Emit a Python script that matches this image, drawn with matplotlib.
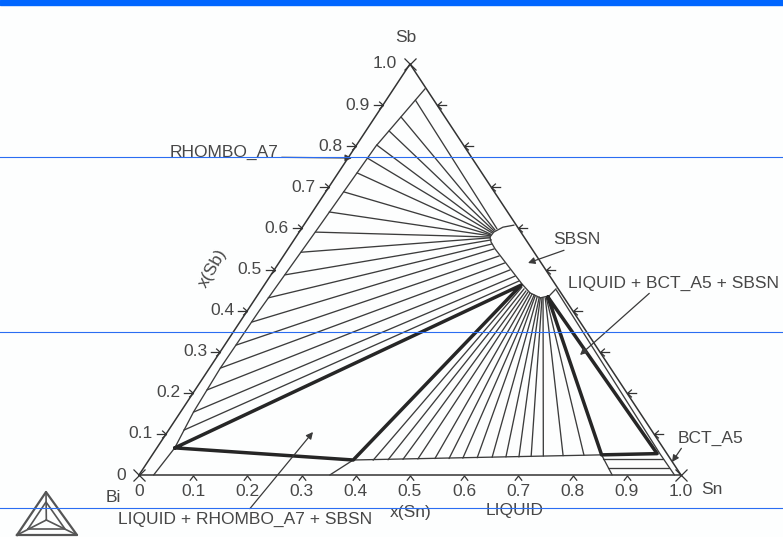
import numpy as np
import matplotlib.pyplot as plt
from matplotlib.transforms import Affine2D
from matplotlib.path import Path

plt.rcParams['font.family'] = ['Liberation Sans', 'DejaVu Sans']

# compositions as (x(Sn), x(Sb))
rhombo_sn = [0.027, 0.033, 0.024, 0.020, 0.022, 0.030, 0.037, 0.058]
rhombo_sb = [0.000, 0.066, 0.153, 0.260, 0.400, 0.600, 0.800, 0.940]

sbsn_sn = [0.388, 0.370, 0.359, 0.358, 0.366, 0.382, 0.474, 0.500, 0.525, 0.539, 0.543]
sbsn_sb = [0.608, 0.603, 0.591, 0.579, 0.567, 0.550, 0.465, 0.443, 0.431, 0.436, 0.453]

# tie lines RHOMBO_A7 + SBSN
tie_rh_sn = [0.054, 0.048, 0.043, 0.037, 0.036, 0.035, 0.033, 0.031, 0.030,
             0.028, 0.026, 0.023, 0.022, 0.021, 0.020, 0.022, 0.024, 0.028]
tie_rh_sb = [0.912, 0.871, 0.837, 0.803, 0.771, 0.735, 0.689, 0.640, 0.591,
             0.542, 0.487, 0.431, 0.372, 0.316, 0.260, 0.207, 0.153, 0.109]
tie_sb_sn = [0.361, 0.359, 0.358, 0.358, 0.357, 0.356, 0.357, 0.357, 0.358,
             0.359, 0.364, 0.370, 0.380, 0.398, 0.417, 0.435, 0.452, 0.465]
tie_sb_sb = [0.599, 0.596, 0.594, 0.591, 0.589, 0.586, 0.584, 0.582, 0.579,
             0.577, 0.572, 0.562, 0.550, 0.533, 0.516, 0.499, 0.484, 0.472]

# tie lines LIQUID + SBSN
tie_liq_sn = [0.414, 0.441, 0.468, 0.495, 0.526, 0.552, 0.577, 0.603,
              0.630, 0.655, 0.679, 0.701, 0.723, 0.759, 0.797]
tie_liq_sb = [0.036, 0.037, 0.038, 0.039, 0.040, 0.040, 0.041, 0.042,
              0.043, 0.044, 0.044, 0.045, 0.046, 0.047, 0.048]
tie_top_sn = [0.478, 0.484, 0.490, 0.495, 0.500, 0.505, 0.510, 0.513,
              0.518, 0.522, 0.525, 0.528, 0.530, 0.534, 0.536]
tie_top_sb = [0.457, 0.453, 0.448, 0.445, 0.443, 0.440, 0.438, 0.436,
              0.433, 0.433, 0.431, 0.431, 0.431, 0.431, 0.431]

# three-phase triangles
tri1_sn = [0.033, 0.474, 0.377, 0.033]   # RHOMBO_A7 - SBSN - LIQUID
tri1_sb = [0.066, 0.462, 0.0365, 0.066]
tri2_sn = [0.538, 0.829, 0.930, 0.538]   # SBSN - LIQUID - BCT_A5
tri2_sb = [0.433, 0.049, 0.052, 0.433]

liq_top_sn = [0.377, 0.829]
liq_top_sb = [0.0365, 0.049]
liq_left_sn = [0.352, 0.377]
liq_left_sb = [0.0, 0.0365]
liq_right_sn = [0.829, 0.873]
liq_right_sb = [0.049, 0.0]
bct_sn = [0.545, 0.935, 0.988]
bct_sb = [0.450, 0.052, 0.0]
tie_bct_sn = [[0.837, 0.947], [0.858, 0.969]]
tie_bct_sb = [[0.040, 0.040], [0.016, 0.016]]

tick_vals = [0.1, 0.2, 0.3, 0.4, 0.5, 0.6, 0.7, 0.8, 0.9]
tick_labels = ['0', '0.1', '0.2', '0.3', '0.4', '0.5', '0.6', '0.7', '0.8', '0.9', '1.0']

logo_outer = [(17, 535), (77, 535), (46, 492), (17, 535)]
logo_inner = [(28, 529), (65, 529), (46, 502), (28, 529)]

thin = dict(color='#3c3c3c', lw=0.95, solid_capstyle='round')
thick = dict(color='#262626', lw=2.5, solid_capstyle='round', solid_joinstyle='round')
txt = dict(color='#474747', fontsize=12.5)

fig = plt.figure(figsize=(7.83, 5.37), dpi=100)
fig.patch.set_facecolor('#fdfefe')
ax = fig.add_axes([0, 0, 1, 1])
ax.set_xlim(0, 783)
ax.set_ylim(537, 0)
ax.axis('off')

# skewed ternary frame of the scan: (x(Sn), x(Sb)) -> pixel position
skew = Affine2D().from_values(542, 0, 271, -411, 139, 475)
tern = skew + ax.transData

ax.plot([0, 1, 0, 0], [0, 0, 1, 0], transform=tern, color='#333333', lw=1.1)
ax.plot(rhombo_sn, rhombo_sb, transform=tern, **thin)
ax.plot(sbsn_sn, sbsn_sb, transform=tern, **thin)

for i in range(len(tie_rh_sn)):
    ax.plot([tie_rh_sn[i], tie_sb_sn[i]], [tie_rh_sb[i], tie_sb_sb[i]], transform=tern, **thin)
for i in range(len(tie_liq_sn)):
    ax.plot([tie_liq_sn[i], tie_top_sn[i]], [tie_liq_sb[i], tie_top_sb[i]], transform=tern, **thin)

ax.plot(liq_top_sn, liq_top_sb, transform=tern, **thin)
ax.plot(liq_left_sn, liq_left_sb, transform=tern, **thin)
ax.plot(liq_right_sn, liq_right_sb, transform=tern, **thin)
ax.plot(bct_sn, bct_sb, transform=tern, **thin)
for sn, sb in zip(tie_bct_sn, tie_bct_sb):
    ax.plot(sn, sb, transform=tern, **thin)

ax.plot(tri1_sn, tri1_sb, transform=tern, **thick)
ax.plot(tri2_sn, tri2_sb, transform=tern, **thick)

# axis ticks
M, L = Path.MOVETO, Path.LINETO
left_tick = Path([(-1, 0), (0, 0), (-0.45, 0.4), (0, 0), (-0.45, -0.4)], [M, L, M, L, L])
right_tick = Path([(1, 0), (0, 0), (0.45, 0.4), (0, 0), (0.45, -0.4)], [M, L, M, L, L])
base_tick = Path([(-0.7, -1), (0, -0.1), (0.7, -1)], [M, L, L])
tv = np.array(tick_vals)
mk = dict(transform=tern, ls='none', color='#333333', mfc='none', mew=0.9)
ax.plot(np.zeros_like(tv), tv, marker=left_tick, ms=14, **mk)
ax.plot(1 - tv, tv, marker=right_tick, ms=14, **mk)
ax.plot(tv, np.zeros_like(tv), marker=base_tick, ms=7.5, **mk)
ax.plot([0, 1, 0], [0, 0, 1], marker='x', ms=8, **mk)

for i, lab in enumerate(tick_labels):
    v = i / 10
    x, y = skew.transform((0, v))
    ax.text(x - 13, y, lab, ha='right', va='center', **txt)
    x, y = skew.transform((v, 0))
    ax.text(x, y + 17, lab, ha='center', va='center', **txt)

ax.text(406, 37, 'Sb', ha='center', va='center', **txt)
ax.text(113, 497, 'Bi', ha='center', va='center', **txt)
ax.text(712, 490, 'Sn', ha='center', va='center', **txt)
ax.text(213, 268, 'x(Sb)', ha='center', va='center', rotation=60, **txt)
ax.text(411, 513, 'x(Sn)', ha='center', va='center', **txt)
ax.text(515, 510, 'LIQUID', ha='center', va='center', **txt)

arr = dict(arrowstyle='-|>', color='#3a3a3a', lw=0.9, mutation_scale=10, shrinkA=0, shrinkB=0)
ax.annotate('RHOMBO_A7', xy=(352, 158), xytext=(170, 152), va='center', ha='left', **txt,
            arrowprops=dict(arr, relpos=(1, 0.15)))
ax.annotate('SBSN', xy=(528, 263), xytext=(553, 240), va='center', ha='left', **txt,
            arrowprops=dict(arr, relpos=(0.4, 0)))
ax.annotate('LIQUID + BCT_A5 + SBSN', xy=(580, 355), xytext=(568, 283), va='center', ha='left', **txt,
            arrowprops=dict(arr, relpos=(0.4, 0)))
ax.annotate('BCT_A5', xy=(672, 462), xytext=(678, 438), va='center', ha='left', **txt,
            arrowprops=dict(arr, relpos=(0.08, 0)))
ax.annotate('LIQUID + RHOMBO_A7 + SBSN', xy=(313, 432), xytext=(118, 519), va='center', ha='left', **txt,
            arrowprops=dict(arr, relpos=(0.51, 1)))

# Thermo-Calc style logo
lo = np.array(logo_outer)
li = np.array(logo_inner)
ax.plot(lo[:, 0], lo[:, 1], color='#555555', lw=1.6)
ax.plot(li[:, 0], li[:, 1], color='#555555', lw=1.2)
cx, cy = li[:3].mean(axis=0)
for px, py in lo[:3]:
    ax.plot([px, cx], [py, cy], color='#555555', lw=1.2)

# slide overlay in the screenshot
ax.axhspan(0, 5, color='#0066ff', zorder=10)
for yb in [157, 332, 508]:
    ax.axhline(yb, color='#2b6df2', lw=0.8, zorder=10)

fig.savefig('out.png', dpi=100, facecolor=fig.get_facecolor())
